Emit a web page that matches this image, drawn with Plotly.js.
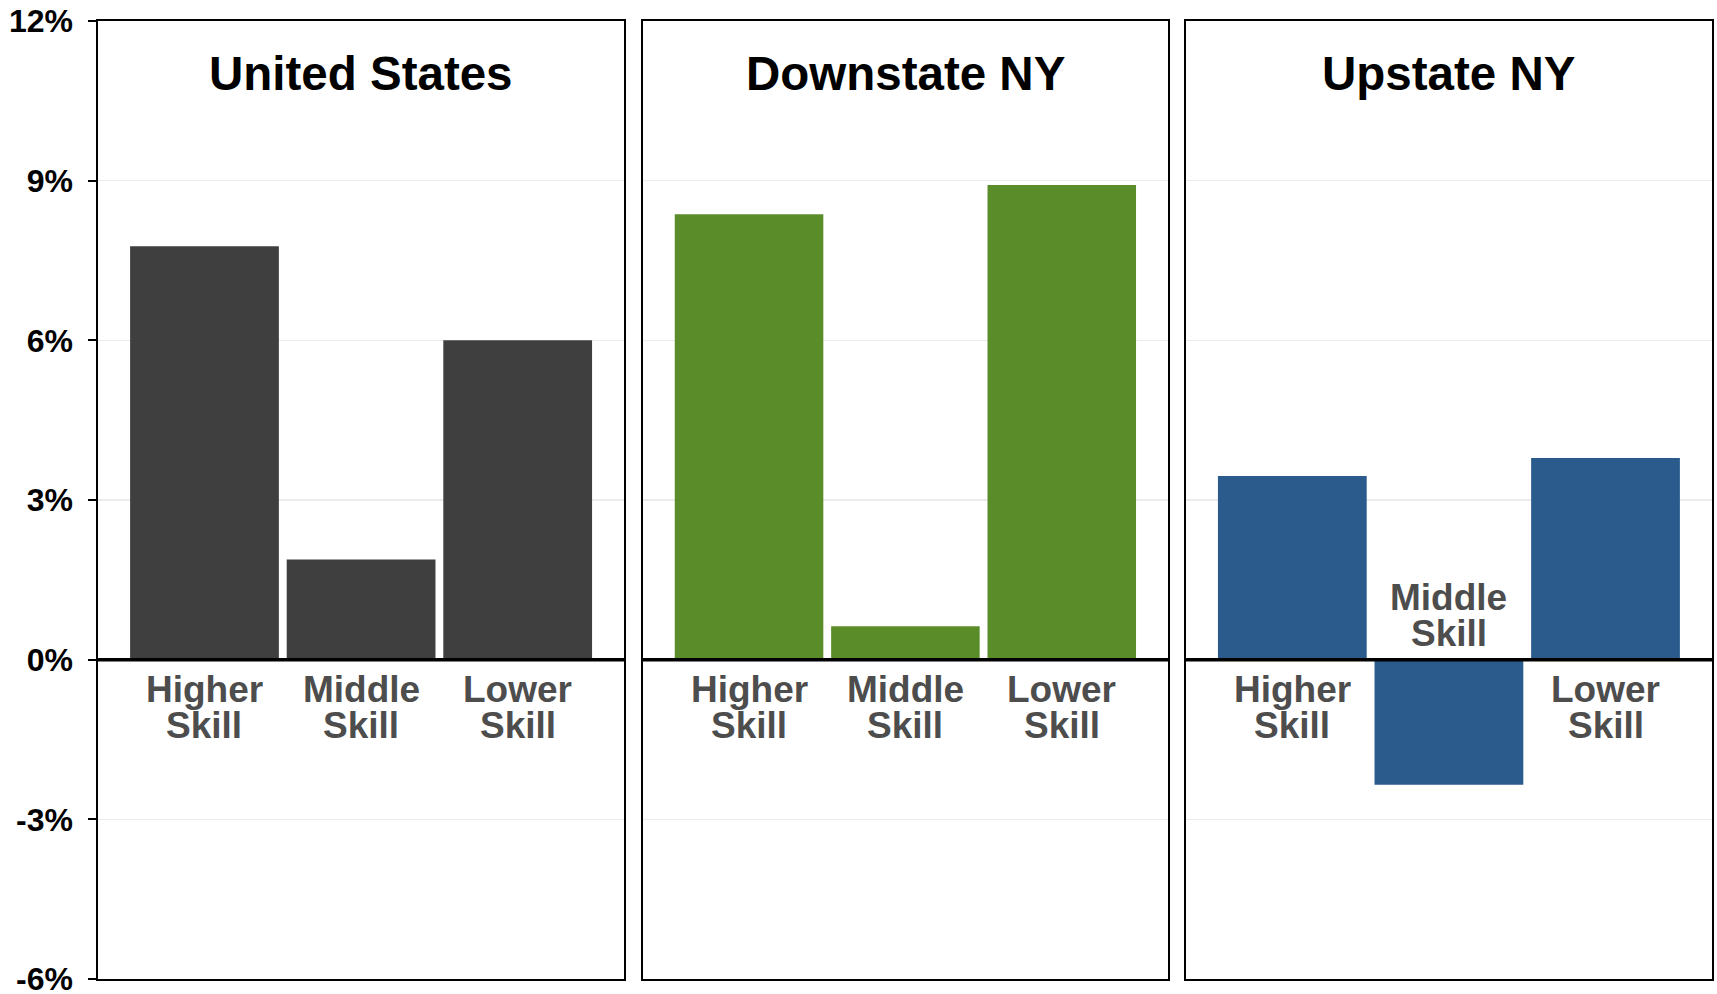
<!DOCTYPE html>
<html>
<head>
<meta charset="utf-8">
<script src="https://cdn.plot.ly/plotly-3.0.1.min.js"></script>
<style>
  html, body { margin: 0; padding: 0; background: #ffffff; overflow: hidden; }
  #chart { width: 1717px; height: 994px; }
</style>
</head>
<body>
<div id="chart"></div>
<script>
// ---- Data ----
const categories = ["Higher Skill", "Middle Skill", "Lower Skill"];
const regions = ["United States", "Downstate NY", "Upstate NY"];
const usValues = [7.77, 1.88, 6.0];
const downstateValues = [8.37, 0.63, 8.92];
const upstateValues = [3.45, -2.35, 3.79];
const yTickVals = [-6, -3, 0, 3, 6, 9, 12];
const yTickText = ["-6%", "-3%", "0%", "3%", "6%", "9%", "12%"];

// ---- Style ----
const colors = ["#3f3f3f", "#5b8c2a", "#2a5b8c"];
const seriesValues = [usValues, downstateValues, upstateValues];
const FONT = "Liberation Sans, Arial, sans-serif";
const domains = [[0, 0.326], [0.3375, 0.663], [0.674, 1]];
const xRange = [-0.68, 2.68];
const yRange = [-6, 12];

const traces = [];
const annotations = [];
const shapes = [];
const layout = {
  width: 1717, height: 994,
  margin: {l: 98, r: 5, t: 21, b: 15, pad: 0},
  paper_bgcolor: "#ffffff", plot_bgcolor: "#ffffff",
  showlegend: false,
  bargap: 0.05,
  font: {family: FONT}
};

seriesValues.forEach((vals, i) => {
  const n = i + 1;
  const xa = "x" + (n === 1 ? "" : n);
  const ya = "y" + (n === 1 ? "" : n);
  const xKey = "xaxis" + (n === 1 ? "" : n);
  const yKey = "yaxis" + (n === 1 ? "" : n);
  traces.push({
    type: "bar", x: categories, y: vals, xaxis: xa, yaxis: ya,
    marker: {color: colors[i], line: {width: 0}},
    hoverinfo: "x+y"
  });
  layout[xKey] = {
    domain: domains[i], anchor: ya, type: "category",
    range: xRange, showticklabels: false, ticks: "",
    showgrid: false, zeroline: false,
    showline: true, mirror: true, linecolor: "#000000", linewidth: 1.6,
    fixedrange: true
  };
  layout[yKey] = {
    domain: [0, 1], anchor: xa, range: yRange,
    tickvals: yTickVals, ticktext: yTickText,
    showticklabels: n === 1,
    ticklabeloverflow: "allow",
    ticks: n === 1 ? "outside" : "", ticklen: 8, tickwidth: 2, tickcolor: "#000000",
    ticklabelstandoff: 9,
    tickfont: {family: FONT, size: 32, color: "#000000", weight: "bold"},
    showgrid: true, gridcolor: "#ebebeb", gridwidth: 1.5,
    zeroline: false,
    showline: true, mirror: true, linecolor: "#000000", linewidth: 1.6,
    fixedrange: true
  };
  // Zero line above bars
  shapes.push({
    type: "line", xref: xa + " domain", yref: ya,
    x0: 0, x1: 1, y0: 0, y1: 0,
    line: {color: "#000000", width: 3.5}, layer: "above"
  });
  // Panel title
  annotations.push({
    xref: xa + " domain", yref: ya + " domain", x: 0.5, y: 0.9457,
    xanchor: "center", yanchor: "middle", showarrow: false,
    text: regions[i],
    font: {family: FONT, size: 47.5, color: "#000000", weight: "bold"}
  });
  // Category labels next to zero line (two tightly spaced lines)
  categories.forEach((cat, j) => {
    const lines = cat.split(" ");
    const neg = vals[j] < 0;
    const shifts = neg ? [62, 26] : [-30, -66];
    lines.forEach((ln, k) => {
      annotations.push({
        xref: xa, yref: ya, x: cat, y: 0,
        xanchor: "center", yanchor: "middle", yshift: shifts[k],
        showarrow: false, text: ln,
        font: {family: FONT, size: 37, color: "#4d4d4d", weight: "bold"}
      });
    });
  });
});

layout.annotations = annotations;
layout.shapes = shapes;

Plotly.newPlot("chart", traces, layout, {displayModeBar: false, staticPlot: true});
</script>
</body>
</html>
